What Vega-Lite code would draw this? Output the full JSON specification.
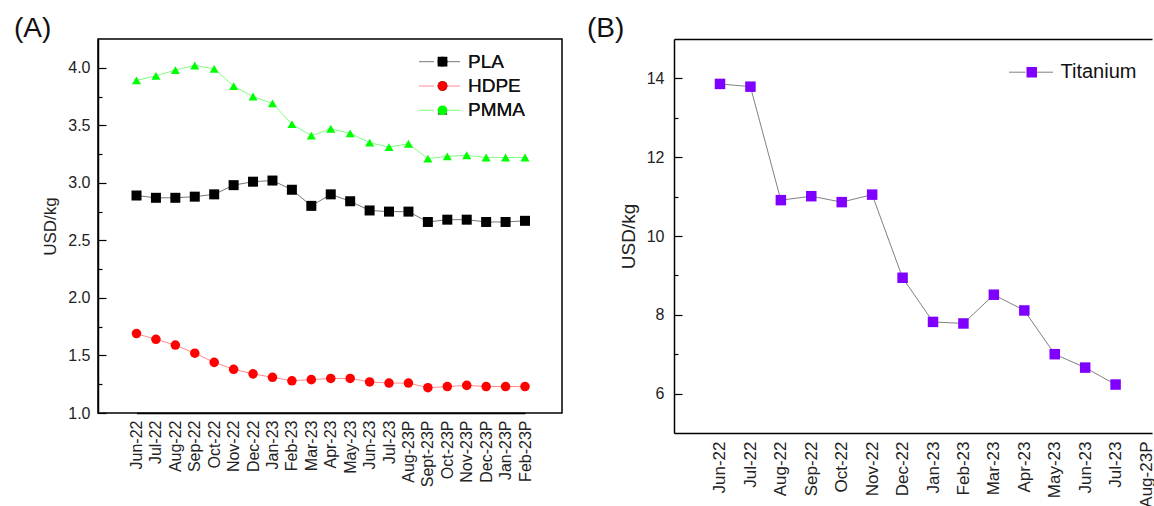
{
  "$schema": "https://vega.github.io/schema/vega-lite/v6.json",
  "background": "white",
  "padding": {"left": 13, "top": 14, "right": 0, "bottom": 0},
  "bounds": "flush",
  "spacing": 112,
  "config": {
    "font": "Liberation Sans",
    "view": {"stroke": null},
    "axis": {
      "domainColor": "#000000",
      "domainWidth": 1.5,
      "labelColor": "#222222",
      "titleColor": "#222222",
      "labelFont": "Liberation Sans",
      "titleFont": "Liberation Sans",
      "titleFontWeight": "normal",
      "grid": false,
      "tickColor": "#000000",
      "tickWidth": 1.2
    },
    "title": {"font": "Liberation Sans", "fontWeight": "normal", "fontSize": 28, "anchor": "start", "frame": "group", "color": "#111111", "baseline": "alphabetic", "offset": -4},
    "legend": {"padding": 0, "labelFont": "Liberation Sans", "labelColor": "#111111"}
  },
  "resolve": {
    "scale": {"fill": "independent", "stroke": "independent", "shape": "independent", "size": "independent", "x": "independent", "y": "independent"},
    "legend": {"fill": "independent", "stroke": "independent", "shape": "independent"}
  },
  "datasets": {
    "plastics": [
      {"series": "PLA", "month": "Jun-22", "price": 2.89},
      {"series": "PLA", "month": "Jul-22", "price": 2.87},
      {"series": "PLA", "month": "Aug-22", "price": 2.87},
      {"series": "PLA", "month": "Sep-22", "price": 2.88},
      {"series": "PLA", "month": "Oct-22", "price": 2.90},
      {"series": "PLA", "month": "Nov-22", "price": 2.98},
      {"series": "PLA", "month": "Dec-22", "price": 3.01},
      {"series": "PLA", "month": "Jan-23", "price": 3.02},
      {"series": "PLA", "month": "Feb-23", "price": 2.94},
      {"series": "PLA", "month": "Mar-23", "price": 2.80},
      {"series": "PLA", "month": "Apr-23", "price": 2.90},
      {"series": "PLA", "month": "May-23", "price": 2.84},
      {"series": "PLA", "month": "Jun-23", "price": 2.76},
      {"series": "PLA", "month": "Jul-23", "price": 2.75},
      {"series": "PLA", "month": "Aug-23P", "price": 2.75},
      {"series": "PLA", "month": "Sept-23P", "price": 2.66},
      {"series": "PLA", "month": "Oct-23P", "price": 2.68},
      {"series": "PLA", "month": "Nov-23P", "price": 2.68},
      {"series": "PLA", "month": "Dec-23P", "price": 2.66},
      {"series": "PLA", "month": "Jan-23P", "price": 2.66},
      {"series": "PLA", "month": "Feb-23P", "price": 2.67},
      {"series": "HDPE", "month": "Jun-22", "price": 1.69},
      {"series": "HDPE", "month": "Jul-22", "price": 1.64},
      {"series": "HDPE", "month": "Aug-22", "price": 1.59},
      {"series": "HDPE", "month": "Sep-22", "price": 1.52},
      {"series": "HDPE", "month": "Oct-22", "price": 1.44},
      {"series": "HDPE", "month": "Nov-22", "price": 1.38},
      {"series": "HDPE", "month": "Dec-22", "price": 1.34},
      {"series": "HDPE", "month": "Jan-23", "price": 1.31},
      {"series": "HDPE", "month": "Feb-23", "price": 1.28},
      {"series": "HDPE", "month": "Mar-23", "price": 1.29},
      {"series": "HDPE", "month": "Apr-23", "price": 1.30},
      {"series": "HDPE", "month": "May-23", "price": 1.30},
      {"series": "HDPE", "month": "Jun-23", "price": 1.27},
      {"series": "HDPE", "month": "Jul-23", "price": 1.26},
      {"series": "HDPE", "month": "Aug-23P", "price": 1.26},
      {"series": "HDPE", "month": "Sept-23P", "price": 1.22},
      {"series": "HDPE", "month": "Oct-23P", "price": 1.23},
      {"series": "HDPE", "month": "Nov-23P", "price": 1.24},
      {"series": "HDPE", "month": "Dec-23P", "price": 1.23},
      {"series": "HDPE", "month": "Jan-23P", "price": 1.23},
      {"series": "HDPE", "month": "Feb-23P", "price": 1.23},
      {"series": "PMMA", "month": "Jun-22", "price": 3.89},
      {"series": "PMMA", "month": "Jul-22", "price": 3.93},
      {"series": "PMMA", "month": "Aug-22", "price": 3.98},
      {"series": "PMMA", "month": "Sep-22", "price": 4.02},
      {"series": "PMMA", "month": "Oct-22", "price": 3.99},
      {"series": "PMMA", "month": "Nov-22", "price": 3.84},
      {"series": "PMMA", "month": "Dec-22", "price": 3.75},
      {"series": "PMMA", "month": "Jan-23", "price": 3.69},
      {"series": "PMMA", "month": "Feb-23", "price": 3.51},
      {"series": "PMMA", "month": "Mar-23", "price": 3.41},
      {"series": "PMMA", "month": "Apr-23", "price": 3.47},
      {"series": "PMMA", "month": "May-23", "price": 3.43},
      {"series": "PMMA", "month": "Jun-23", "price": 3.35},
      {"series": "PMMA", "month": "Jul-23", "price": 3.31},
      {"series": "PMMA", "month": "Aug-23P", "price": 3.34},
      {"series": "PMMA", "month": "Sept-23P", "price": 3.21},
      {"series": "PMMA", "month": "Oct-23P", "price": 3.23},
      {"series": "PMMA", "month": "Nov-23P", "price": 3.24},
      {"series": "PMMA", "month": "Dec-23P", "price": 3.22},
      {"series": "PMMA", "month": "Jan-23P", "price": 3.22},
      {"series": "PMMA", "month": "Feb-23P", "price": 3.22}
    ],
    "titanium": [
      {"series": "Titanium", "month": "Jun-22", "price": 13.86},
      {"series": "Titanium", "month": "Jul-22", "price": 13.79},
      {"series": "Titanium", "month": "Aug-22", "price": 10.91},
      {"series": "Titanium", "month": "Sep-22", "price": 11.01},
      {"series": "Titanium", "month": "Oct-22", "price": 10.86},
      {"series": "Titanium", "month": "Nov-22", "price": 11.05},
      {"series": "Titanium", "month": "Dec-22", "price": 8.94},
      {"series": "Titanium", "month": "Jan-23", "price": 7.82},
      {"series": "Titanium", "month": "Feb-23", "price": 7.78},
      {"series": "Titanium", "month": "Mar-23", "price": 8.51},
      {"series": "Titanium", "month": "Apr-23", "price": 8.11},
      {"series": "Titanium", "month": "May-23", "price": 7.00},
      {"series": "Titanium", "month": "Jun-23", "price": 6.66},
      {"series": "Titanium", "month": "Jul-23", "price": 6.23}
    ]
  },
  "hconcat": [
    {
      "width": 464,
      "height": 374,
      "title": {"text": "(A)", "dx": -84},
      "view": {"stroke": "#000000", "strokeWidth": 1.5},
      "data": {"name": "plastics"},
      "encoding": {
        "x": {
          "field": "month", "type": "ordinal",
          "scale": {"type": "point", "padding": 0, "range": [38.5, 427], "domain": ["Jun-22","Jul-22","Aug-22","Sep-22","Oct-22","Nov-22","Dec-22","Jan-23","Feb-23","Mar-23","Apr-23","May-23","Jun-23","Jul-23","Aug-23P","Sept-23P","Oct-23P","Nov-23P","Dec-23P","Jan-23P","Feb-23P"]},
          "axis": {"title": null, "labelAngle": 270, "ticks": false, "labelFontSize": 16, "labelPadding": 7}
        },
        "y": {
          "field": "price", "type": "quantitative",
          "scale": {"domain": [1, 4.25], "nice": false, "zero": false},
          "axis": {
            "title": "USD/kg", "titleFontSize": 17, "titlePadding": 8,
            "values": [1, 1.25, 1.5, 1.75, 2, 2.25, 2.5, 2.75, 3, 3.25, 3.5, 3.75, 4],
            "labelExpr": "datum.value * 2 % 1 == 0 ? format(datum.value, '.1f') : ''",
            "tickSize": {"condition": {"test": "datum.value * 2 % 1 != 0", "value": -4}, "value": -8},
            "labelPadding": 16, "labelFontSize": 16
          }
        },
        "order": {"value": null}
      },
      "layer": [
        {
          "mark": {"type": "line", "strokeWidth": 1},
          "encoding": {
            "stroke": {
              "field": "series", "type": "nominal",
              "scale": {"domain": ["PLA", "HDPE", "PMMA"], "range": ["#777777", "#ff8c8c", "#80ff80"]},
              "legend": {"orient": "none", "legendX": 320.5, "legendY": 13.7, "title": null, "symbolType": "M-1,0H-0.27M0.27,0H1", "symbolSize": 1681, "symbolStrokeWidth": 1, "labelOpacity": 0, "labelFontSize": 19, "clipHeight": 18, "rowPadding": 5.3}
            }
          }
        },
        {
          "mark": {"type": "point", "filled": true, "opacity": 1, "strokeWidth": 0},
          "encoding": {
            "fill": {
              "field": "series", "type": "nominal", "sort": ["PLA", "HDPE", "PMMA"],
              "scale": {"range": ["#000000", "#ff0000", "#00ff00"]},
              "legend": {"orient": "none", "legendX": 335, "legendY": 13.7, "title": null, "symbolSize": 95, "symbolStrokeWidth": 0, "labelFontSize": 19, "labelOffset": 16, "clipHeight": 18, "rowPadding": 5.3}
            },
            "shape": {
              "field": "series", "type": "nominal", "sort": ["PLA", "HDPE", "PMMA"],
              "scale": {"range": ["square", "circle", "triangle-up"]},
              "legend": {"orient": "none", "legendX": 335, "legendY": 13.7, "title": null, "symbolSize": 95, "symbolStrokeWidth": 0, "labelFontSize": 19, "labelOffset": 16, "clipHeight": 18, "rowPadding": 5.3}
            },
            "size": {
              "field": "series", "type": "nominal", "sort": ["PLA", "HDPE", "PMMA"],
              "scale": {"range": [100, 82, 135]},
              "legend": null
            }
          }
        }
      ]
    },
    {
      "width": 478,
      "height": 394,
      "title": {"text": "(B)", "dx": -87},
      "data": {"name": "titanium"},
      "encoding": {
        "x": {
          "field": "month", "type": "ordinal",
          "scale": {"type": "point", "padding": 0.854, "align": 0.885, "domain": ["Jun-22","Jul-22","Aug-22","Sep-22","Oct-22","Nov-22","Dec-22","Jan-23","Feb-23","Mar-23","Apr-23","May-23","Jun-23","Jul-23","Aug-23P"]},
          "axis": {"title": null, "labelAngle": 270, "ticks": false, "labelFontSize": 17, "labelPadding": 8}
        },
        "y": {
          "field": "price", "type": "quantitative",
          "scale": {"domain": [5, 15], "nice": false, "zero": false},
          "axis": {
            "title": "USD/kg", "titleFontSize": 19, "titlePadding": 8,
            "values": [6, 7, 8, 9, 10, 11, 12, 13, 14],
            "labelExpr": "datum.value % 2 == 0 ? format(datum.value, 'd') : ''",
            "tickSize": {"condition": {"test": "datum.value % 2 != 0", "value": -4}, "value": -8},
            "labelPadding": 18, "labelFontSize": 16
          }
        },
        "order": {"value": null}
      },
      "layer": [
        {
          "mark": {"type": "line", "strokeWidth": 1},
          "encoding": {
            "stroke": {
              "field": "series", "type": "nominal",
              "scale": {"domain": ["Titanium"], "range": ["#808080"]},
              "legend": {"orient": "none", "legendX": 334.5, "legendY": 24.2, "title": null, "symbolType": "M-1,0H-0.25M0.25,0H1", "symbolSize": 1936, "symbolStrokeWidth": 1, "labelOpacity": 0, "labelFontSize": 20, "clipHeight": 18}
            }
          }
        },
        {
          "mark": {"type": "point", "filled": true, "opacity": 1, "size": 110, "strokeWidth": 0, "shape": "square"},
          "encoding": {
            "x": {
              "field": "month", "type": "ordinal",
              "scale": {"type": "point", "padding": 0.854, "align": 0.885, "domain": ["Jun-22","Jul-22","Aug-22","Sep-22","Oct-22","Nov-22","Dec-22","Jan-23","Feb-23","Mar-23","Apr-23","May-23","Jun-23","Jul-23","Aug-23P"]},
              "axis": {"orient": "top", "title": null, "labels": false, "ticks": false, "domain": true}
            },
            "fill": {
              "field": "series", "type": "nominal", "sort": ["Titanium"],
              "scale": {"range": ["#8000ff"]},
              "legend": {"orient": "none", "legendX": 347.75, "legendY": 24.2, "title": null, "symbolType": "square", "symbolSize": 110, "symbolStrokeWidth": 0, "labelFontSize": 20, "labelOffset": 18.75, "clipHeight": 18}
            }
          }
        }
      ],
      "resolve": {"axis": {"x": "independent"}}
    }
  ]
}
